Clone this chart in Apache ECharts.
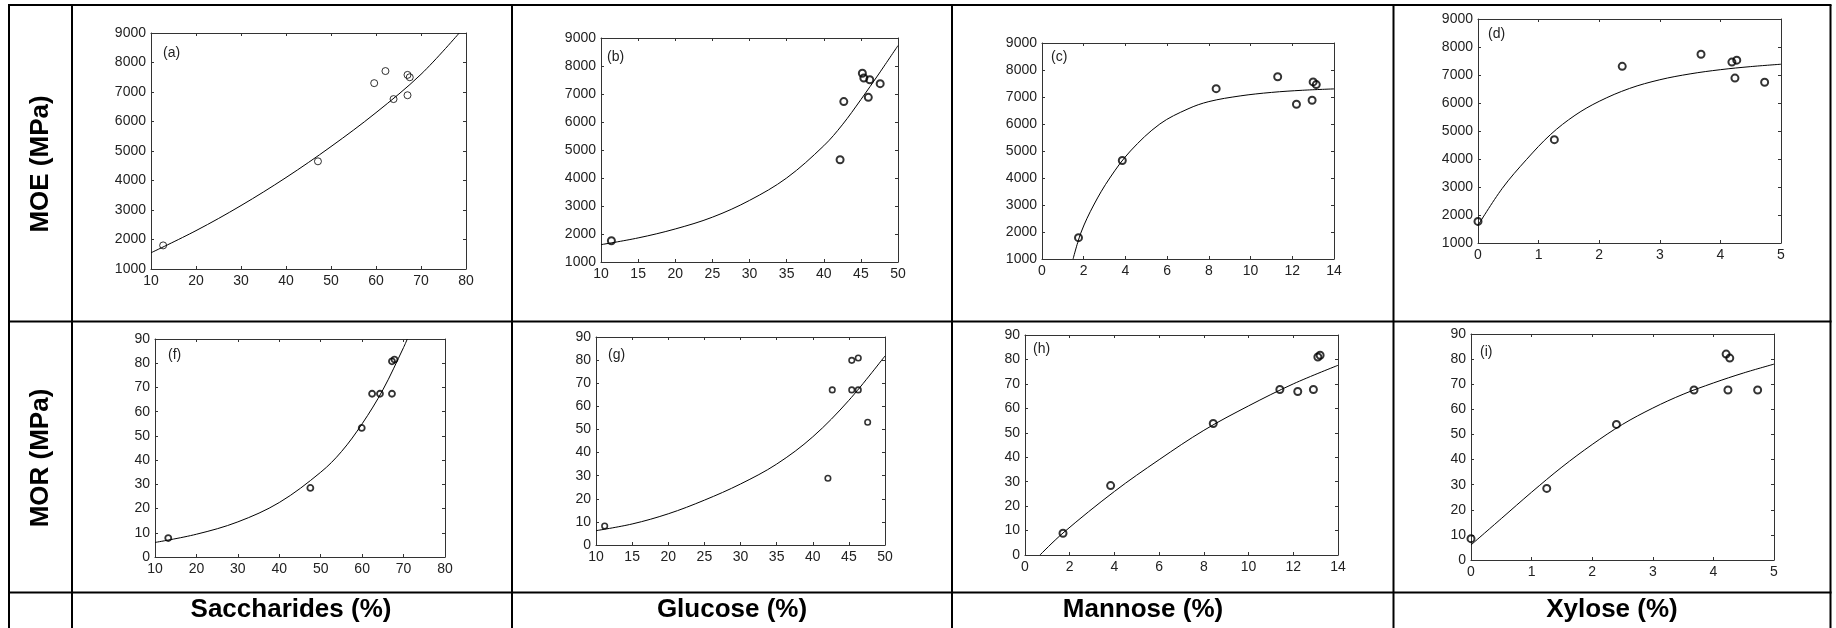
<!DOCTYPE html>
<html>
<head>
<meta charset="utf-8">
<title>MOE / MOR vs sugar content</title>
<script src="https://cdn.jsdelivr.net/npm/echarts@6/dist/echarts.min.js"></script>
<style>
  html, body { margin: 0; padding: 0; background: #fff; }
  #chart { width: 1836px; height: 628px; }
</style>
</head>
<body>
<div id="chart"></div>
<script>
const moeSacchPts = [[12.7, 1800], [47.1, 4650], [59.6, 7300], [62.1, 7710], [63.9, 6760], [67.0, 7580], [67.5, 7500], [67.0, 6890]];
const moeSacchFit = [[10, 1550], [20, 2300], [30, 3150], [40, 4100], [50, 5150], [60, 6300], [70, 7600], [78.5, 9000]];

const moeGlucPts = [[11.4, 1760], [42.2, 4650], [42.7, 6730], [45.2, 7740], [45.4, 7570], [46.2, 7510], [46.0, 6880], [47.6, 7370]];
const moeGlucFit = [[10, 1620], [15, 1860], [20, 2180], [25, 2600], [30, 3200], [35, 4000], [40, 5150], [42.5, 5900], [45, 6800], [47.5, 7750], [50, 8730]];

const moeMannPts = [[1.75, 1790], [3.85, 4650], [8.35, 7310], [11.3, 7750], [12.2, 6730], [12.95, 6880], [13.0, 7560], [13.15, 7460]];
const moeMannFit = [[1.49, 1000], [1.88, 2000], [2.48, 3000], [3.25, 4000], [4.24, 5000], [5.65, 6000], [7, 6560], [8, 6830], [9.5, 7040], [11, 7170], [12.5, 7250], [14, 7300]];

const moeXylPts = [[0, 1770], [1.26, 4690], [2.38, 7310], [3.68, 7740], [4.19, 7460], [4.27, 7530], [4.24, 6890], [4.73, 6740]];
const moeXylFit = [[0, 1630], [0.4, 2950], [0.8, 3980], [1.2, 4880], [1.6, 5560], [2, 6060], [2.5, 6520], [3, 6830], [3.5, 7040], [4, 7190], [4.5, 7300], [5, 7385]];

const morSacchPts = [[13.2, 7.8], [47.5, 28.5], [59.9, 53.3], [62.4, 67.4], [64.3, 67.4], [67.2, 67.4], [67.2, 80.8], [67.8, 81.5]];
const morSacchFit = [[10, 6], [20, 9.4], [30, 14.5], [40, 22.5], [50, 35], [55, 43.5], [60, 55], [65, 69], [70, 86.5], [70.9, 90]];

const morGlucPts = [[11.2, 8.2], [42.1, 28.9], [42.7, 67.1], [45.4, 79.9], [46.3, 80.9], [45.4, 67.1], [46.3, 67.1], [47.6, 53.1]];
const morGlucFit = [[10, 6.2], [15, 9.1], [20, 13.5], [25, 19.4], [30, 26.4], [35, 35], [40, 46.8], [45, 62.6], [50, 81.8]];

const morMannPts = [[1.7, 8.9], [3.83, 28.4], [8.42, 53.8], [11.4, 67.7], [12.2, 66.9], [12.9, 67.7], [13.1, 81.0], [13.2, 81.7]];
const morMannFit = [[0.67, 0], [1.7, 9], [4, 26], [6, 39], [8, 51], [10, 61], [12, 70], [14, 77.6]];

const morXylPts = [[0, 8.5], [1.25, 28.5], [2.4, 54.0], [3.68, 67.7], [4.21, 82.0], [4.27, 80.4], [4.24, 67.7], [4.73, 67.7]];
const morXylFit = [[0, 6], [0.5, 16.5], [1, 27], [1.5, 37], [2, 46], [2.5, 54], [3, 60.5], [3.5, 66], [4, 70.5], [4.5, 74.5], [5, 78]];

// axis ranges [min, max, interval]
const saccharidesRange = [10, 80, 10];
const glucoseRange = [10, 50, 5];
const mannoseRange = [0, 14, 2];
const xyloseRange = [0, 5, 1];
const moeRange = [1000, 9000, 1000];
const morRange = [0, 90, 10];

const panelTags = ['(a)', '(b)', '(c)', '(d)', '(f)', '(g)', '(h)', '(i)'];
const rowTitles = ['MOE (MPa)', 'MOR (MPa)'];
const colTitles = ['Saccharides (%)', 'Glucose (%)', 'Mannose (%)', 'Xylose (%)'];

const FONT = '"Liberation Sans", Arial, Helvetica, sans-serif';
const AXIS_COLOR = '#333';

// layout of each small plot inside the table
const panels = [
  { pts: moeSacchPts, fit: moeSacchFit, xr: saccharidesRange, yr: moeRange, grid: { left: 151, top: 33, width: 315, height: 236 }, tag: [12, 20], size: 7, bw: 1 },
  { pts: moeGlucPts, fit: moeGlucFit, xr: glucoseRange, yr: moeRange, grid: { left: 601, top: 38, width: 297, height: 224 }, tag: [6, 19], size: 7, bw: 2 },
  { pts: moeMannPts, fit: moeMannFit, xr: mannoseRange, yr: moeRange, grid: { left: 1042, top: 43, width: 292, height: 216 }, tag: [9, 14], size: 7, bw: 2 },
  { pts: moeXylPts, fit: moeXylFit, xr: xyloseRange, yr: moeRange, grid: { left: 1478, top: 19, width: 303, height: 224 }, tag: [10, 15], size: 7, bw: 2 },
  { pts: morSacchPts, fit: morSacchFit, xr: saccharidesRange, yr: morRange, grid: { left: 155, top: 339, width: 290, height: 218 }, tag: [13, 16], size: 6, bw: 1.8 },
  { pts: morGlucPts, fit: morGlucFit, xr: glucoseRange, yr: morRange, grid: { left: 596, top: 337, width: 289, height: 208 }, tag: [12, 18], size: 5.5, bw: 1.6 },
  { pts: morMannPts, fit: morMannFit, xr: mannoseRange, yr: morRange, grid: { left: 1025, top: 335, width: 313, height: 220 }, tag: [8, 14], size: 7, bw: 2 },
  { pts: morXylPts, fit: morXylFit, xr: xyloseRange, yr: morRange, grid: { left: 1471, top: 334, width: 303, height: 226 }, tag: [9, 18], size: 7, bw: 2 }
];

const tableX = [9, 72, 512, 952, 1393.5, 1830.5];
const tableY = [5, 321.5, 592.5];

function makeAxis(range, i, position, labels) {
  return {
    type: 'value',
    gridIndex: i,
    position: position,
    min: range[0],
    max: range[1],
    interval: range[2],
    axisLine: { show: true, onZero: false, lineStyle: { color: AXIS_COLOR, width: 1 } },
    axisTick: { show: true, inside: true, length: 3, lineStyle: { color: AXIS_COLOR } },
    axisLabel: {
      show: labels, color: '#222', fontSize: 14, fontFamily: FONT, margin: 5,
      formatter: v => String(v)
    },
    splitLine: { show: false }
  };
}

const grids = [];
const xAxes = [];
const yAxes = [];
const series = [];
const graphics = [];

panels.forEach((p, i) => {
  grids.push(Object.assign({ containLabel: false, outerBoundsMode: 'none' }, p.grid));
  xAxes.push(makeAxis(p.xr, i, 'bottom', true));
  xAxes.push(makeAxis(p.xr, i, 'top', false));
  yAxes.push(makeAxis(p.yr, i, 'left', true));
  yAxes.push(makeAxis(p.yr, i, 'right', false));

  series.push({
    type: 'line',
    xAxisIndex: 2 * i,
    yAxisIndex: 2 * i,
    data: p.fit,
    smooth: 0.35,
    showSymbol: false,
    clip: true,
    silent: true,
    lineStyle: { color: '#000', width: 1 },
    z: 2
  });
  series.push({
    type: 'scatter',
    xAxisIndex: 2 * i,
    yAxisIndex: 2 * i,
    data: p.pts,
    symbol: 'circle',
    symbolSize: p.size,
    itemStyle: { color: 'rgba(0,0,0,0)', borderColor: '#000', borderWidth: p.bw },
    z: 3
  });

  graphics.push({
    type: 'text',
    x: p.grid.left + p.tag[0],
    y: p.grid.top + p.tag[1],
    style: {
      text: panelTags[i], font: '14px ' + FONT, fill: '#222',
      textAlign: 'left', textVerticalAlign: 'middle', align: 'left', verticalAlign: 'middle'
    }
  });
});

// table lines
tableX.forEach(x => {
  graphics.push({ type: 'line', shape: { x1: x, y1: tableY[0], x2: x, y2: 628 }, style: { stroke: '#000', lineWidth: 2 } });
});
tableY.forEach(y => {
  graphics.push({ type: 'line', shape: { x1: tableX[0] - 1, y1: y, x2: tableX[tableX.length - 1] + 1, y2: y }, style: { stroke: '#000', lineWidth: 2 } });
});

// row titles (rotated) and column titles
const rowCenters = [164, 458];
rowTitles.forEach((t, r) => {
  graphics.push({
    type: 'text', x: 41, y: rowCenters[r], rotation: Math.PI / 2,
    style: {
      text: t, font: 'bold 26px ' + FONT, fill: '#000',
      textAlign: 'center', textVerticalAlign: 'middle', align: 'center', verticalAlign: 'middle'
    }
  });
});
const colCenters = [291, 732, 1143, 1612];
colTitles.forEach((t, c) => {
  graphics.push({
    type: 'text', x: colCenters[c], y: 610,
    style: {
      text: t, font: 'bold 26px ' + FONT, fill: '#000',
      textAlign: 'center', textVerticalAlign: 'middle', align: 'center', verticalAlign: 'middle'
    }
  });
});

const chart = echarts.init(document.getElementById('chart'));
chart.setOption({
  animation: false,
  backgroundColor: '#fff',
  grid: grids,
  xAxis: xAxes,
  yAxis: yAxes,
  series: series,
  graphic: graphics
});
</script>
</body>
</html>
